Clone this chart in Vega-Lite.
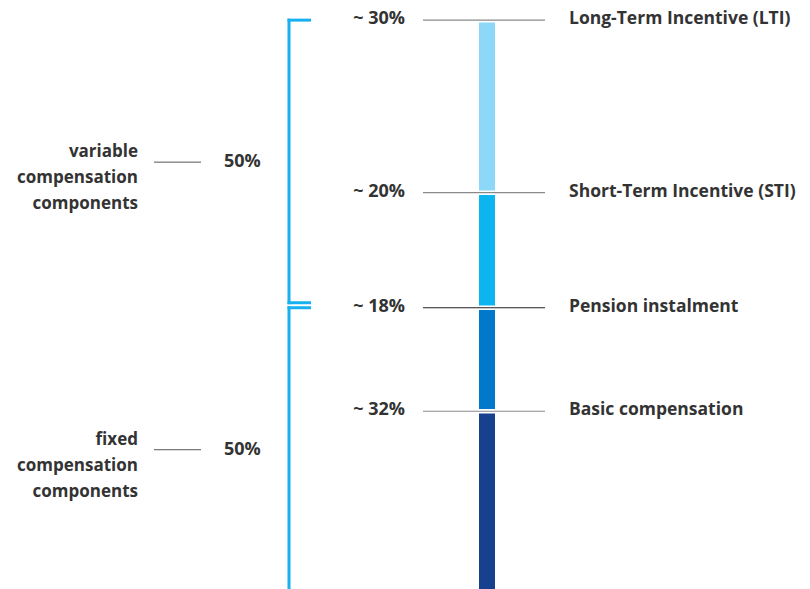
{
  "$schema": "https://vega.github.io/schema/vega-lite/v6.json",
  "width": 810,
  "height": 589,
  "padding": 0,
  "autosize": {"type": "none"},
  "config": {
    "view": {"stroke": null},
    "text": {"font": "Open Sans", "fontWeight": "bold", "fontSize": 17, "letterSpacing": 0.8, "color": "#333333"}
  },
  "datasets": {
    "parts": [
      {"component": "Basic compensation", "share": 32, "order": 1, "approx": "~ 32%"},
      {"component": "Pension instalment", "share": 18, "order": 2, "approx": "~ 18%"},
      {"component": "Short-Term Incentive (STI)", "share": 20, "order": 3, "approx": "~ 20%"},
      {"component": "Long-Term Incentive (LTI)", "share": 30, "order": 4, "approx": "~ 30%"}
    ],
    "groups": [
      {"group": "fixed compensation components", "share": 50, "order": 1, "label": "50%"},
      {"group": "variable compensation components", "share": 50, "order": 2, "label": "50%"}
    ]
  },
  "layer": [
    {
      "data": {"name": "parts"},
      "transform": [
        {"stack": "share", "groupby": [], "sort": [{"field": "order", "order": "ascending"}], "as": ["y0", "y1"]}
      ],
      "layer": [
        {
          "mark": {"type": "rect", "yOffset": 2.3, "y2Offset": -2.3, "clip": true},
          "encoding": {
            "x": {"datum": 479, "type": "quantitative", "scale": {"domain": [0, 810], "nice": false, "zero": false}, "axis": null},
            "x2": {"datum": 495},
            "y": {"field": "y1", "type": "quantitative", "scale": {"domain": [1.1, 103.5], "nice": false, "zero": false}, "axis": null},
            "y2": {"field": "y0"},
            "color": {
              "field": "component", "type": "nominal", "legend": null,
              "scale": {
                "domain": ["Basic compensation", "Pension instalment", "Short-Term Incentive (STI)", "Long-Term Incentive (LTI)"],
                "range": ["#17418f", "#0079cc", "#0cb4f0", "#8dd8f8"]
              }
            }
          }
        },
        {
          "mark": {"type": "rule", "strokeWidth": 1.2},
          "encoding": {
            "x": {"datum": 423, "type": "quantitative"},
            "x2": {"datum": 545},
            "y": {"field": "y1", "type": "quantitative"},
            "stroke": {"condition": {"test": "datum.component === 'Pension instalment'", "value": "#222222"}, "value": "#8a8a8a"}
          }
        },
        {
          "mark": {"type": "text", "align": "right", "baseline": "middle", "dy": -1, "fontSize": 18, "letterSpacing": 2.2},
          "encoding": {
            "x": {"datum": 405, "type": "quantitative"},
            "y": {"field": "y1", "type": "quantitative"},
            "text": {"field": "approx"}
          }
        },
        {
          "mark": {"type": "text", "align": "left", "baseline": "middle", "dy": -1, "fontSize": 17.5, "letterSpacing": 1.3},
          "encoding": {
            "x": {"datum": 569, "type": "quantitative"},
            "y": {"field": "y1", "type": "quantitative"},
            "text": {"field": "component"}
          }
        }
      ]
    },
    {
      "data": {"name": "groups"},
      "transform": [
        {"stack": "share", "groupby": [], "sort": [{"field": "order", "order": "ascending"}], "as": ["b0", "b1"]}
      ],
      "layer": [
        {
          "mark": {"type": "rule", "strokeWidth": 3, "strokeCap": "square", "color": "#16b1ee", "y2Offset": -5, "clip": true},
          "encoding": {
            "x": {"datum": 289, "type": "quantitative"},
            "y": {"field": "b1", "type": "quantitative"},
            "y2": {"field": "b0"}
          }
        },
        {
          "mark": {"type": "rule", "strokeWidth": 3, "strokeCap": "square", "color": "#16b1ee"},
          "encoding": {
            "x": {"datum": 289, "type": "quantitative"},
            "x2": {"datum": 309.5},
            "y": {"field": "b1", "type": "quantitative"}
          }
        },
        {
          "transform": [{"filter": "datum.b0 > 0"}],
          "mark": {"type": "rule", "strokeWidth": 3, "strokeCap": "square", "color": "#16b1ee", "yOffset": -5},
          "encoding": {
            "x": {"datum": 289, "type": "quantitative"},
            "x2": {"datum": 309.5},
            "y": {"field": "b0", "type": "quantitative"}
          }
        },
        {
          "mark": {"type": "rule", "strokeWidth": 1, "color": "#555555", "yOffset": 142},
          "encoding": {
            "x": {"datum": 154, "type": "quantitative"},
            "x2": {"datum": 201},
            "y": {"field": "b1", "type": "quantitative"}
          }
        },
        {
          "mark": {"type": "text", "align": "left", "baseline": "middle", "dy": 142, "fontSize": 18, "letterSpacing": 2.2},
          "encoding": {
            "x": {"datum": 224, "type": "quantitative"},
            "y": {"field": "b1", "type": "quantitative"},
            "text": {"field": "label"}
          }
        },
        {
          "mark": {"type": "text", "align": "right", "baseline": "middle", "dy": 132, "lineBreak": " ", "lineHeight": 26},
          "encoding": {
            "x": {"datum": 138, "type": "quantitative"},
            "y": {"field": "b1", "type": "quantitative"},
            "text": {"field": "group"}
          }
        }
      ]
    }
  ]
}
